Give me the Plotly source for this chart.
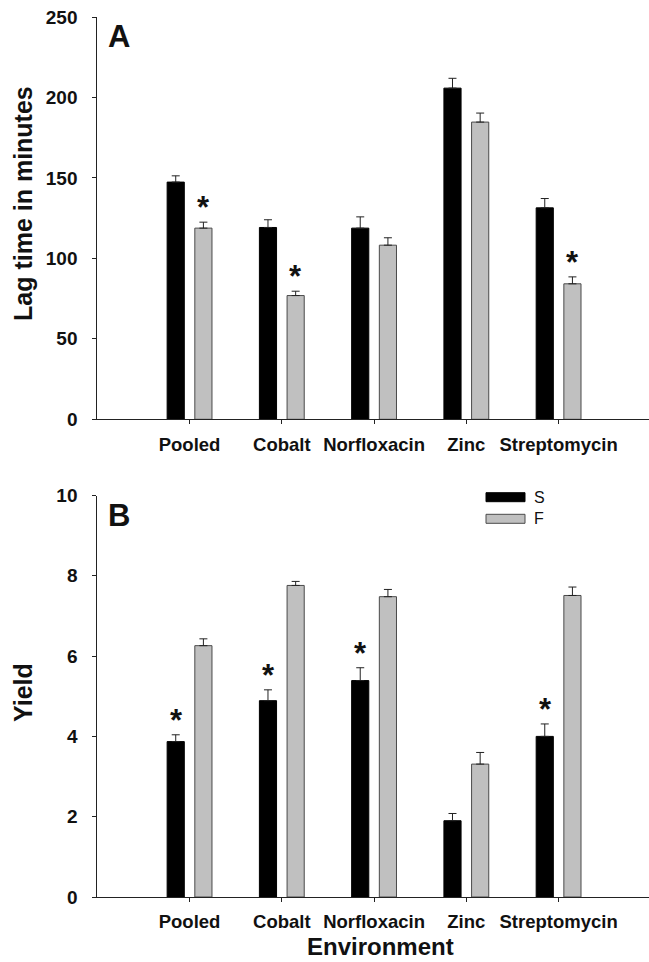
import plotly.graph_objects as go

categories = ["Pooled", "Cobalt", "Norfloxacin", "Zinc", "Streptomycin"]

lag_S = [147.4, 119.2, 118.8, 205.8, 131.4]
lag_S_se = [3.9, 4.8, 7.0, 6.1, 5.8]
lag_F = [118.8, 76.9, 108.2, 184.7, 84.2]
lag_F_se = [3.7, 2.7, 4.6, 5.6, 4.3]
lag_sig_F = [True, True, False, False, True]

yield_S = [3.87, 4.89, 5.39, 1.90, 4.00]
yield_S_se = [0.17, 0.27, 0.32, 0.18, 0.31]
yield_F = [6.26, 7.76, 7.48, 3.31, 7.51]
yield_F_se = [0.17, 0.10, 0.18, 0.29, 0.21]
yield_sig_S = [True, True, True, False, True]

series_names = ["S", "F"]
lag_ticks = [0, 50, 100, 150, 200, 250]
yield_ticks = [0, 2, 4, 6, 8, 10]

W, H = 649, 962
FONT = "Liberation Sans, Arial, sans-serif"
BLACK = "#000000"
GREY = "#c0c0c0"
GREY_EDGE = "#4a4a4a"
TXT = "#111111"

def px_x(p):
    return p / W

def px_y(p):
    return 1 - p / H

fig = go.Figure()

def add_bars(vals, se, name, color, edge, xa, ya):
    fig.add_trace(go.Bar(
        x=categories, y=vals, name=name, xaxis=xa, yaxis=ya,
        marker=dict(color=color, line=dict(color=edge, width=1)),
        error_y=dict(type="data", symmetric=False, array=se,
                     arrayminus=[0] * len(se), color="#222222",
                     thickness=1, width=4),
        showlegend=False,
    ))

add_bars(lag_S, lag_S_se, series_names[0], BLACK, BLACK, "x", "y")
add_bars(lag_F, lag_F_se, series_names[1], GREY, GREY_EDGE, "x", "y")
add_bars(yield_S, yield_S_se, series_names[0], BLACK, BLACK, "x2", "y2")
add_bars(yield_F, yield_F_se, series_names[1], GREY, GREY_EDGE, "x2", "y2")

x_dom = [px_x(97.3), 1.0]
top_dom = [px_y(419.3), px_y(17)]
bot_dom = [px_y(897), px_y(495.5)]

axis_line = "#222222"
common_x = dict(
    type="category", range=[-1.0, 4.98], showline=True, linecolor=axis_line,
    linewidth=1, ticks="outside", ticklen=4, tickcolor=axis_line,
    tickfont=dict(family=FONT, size=18.5, color=TXT, weight="bold"),
    ticklabelstandoff=4, showgrid=False, zeroline=False, automargin=False,
    fixedrange=True,
)
common_y = dict(
    showline=True, linecolor=axis_line, linewidth=1, ticks="outside",
    ticklen=4, tickcolor=axis_line,
    tickfont=dict(family=FONT, size=19, color=TXT, weight="bold"),
    ticklabelstandoff=11, showgrid=False, zeroline=False, automargin=False,
)

fig.update_layout(
    width=W, height=H,
    margin=dict(l=0, r=0, t=0, b=0),
    paper_bgcolor="white", plot_bgcolor="white",
    barmode="group", bargap=0.4, bargroupgap=0.38,
    showlegend=False,
    xaxis=dict(domain=x_dom, anchor="y", **common_x),
    yaxis=dict(domain=top_dom, anchor="x", range=[0, 250],
               tickvals=lag_ticks, **common_y),
    xaxis2=dict(domain=x_dom, anchor="y2", **common_x),
    yaxis2=dict(domain=bot_dom, anchor="x2", range=[0, 10],
                tickvals=yield_ticks, **common_y),
)

ann = []
bar_shift = 13.5
star_font = dict(family=FONT, size=31, color=TXT, weight="bold")
for i, c in enumerate(categories):
    if lag_sig_F[i]:
        ann.append(dict(x=c, y=lag_F[i] + lag_F_se[i], xref="x", yref="y",
                        text="*", showarrow=False, xshift=bar_shift,
                        yanchor="bottom", yshift=-5, font=star_font))
    if yield_sig_S[i]:
        ann.append(dict(x=c, y=yield_S[i] + yield_S_se[i], xref="x2",
                        yref="y2", text="*", showarrow=False,
                        xshift=-bar_shift, yanchor="bottom", yshift=-5,
                        font=star_font))

# panel letters
for letter, ytop in (("A", 17), ("B", 496)):
    ann.append(dict(x=px_x(106), y=px_y(ytop), xref="paper", yref="paper",
                    text=letter, showarrow=False, xanchor="left",
                    yanchor="top",
                    font=dict(family=FONT, size=31, color=TXT,
                              weight="bold")))

# axis titles
title_font = dict(family=FONT, size=25, color=TXT, weight="bold")
ann.append(dict(x=px_x(23), y=px_y(204), xref="paper", yref="paper",
                text="Lag time in minutes", textangle=-90, showarrow=False,
                xanchor="center", yanchor="middle", font=title_font))
ann.append(dict(x=px_x(23), y=px_y(693), xref="paper", yref="paper",
                text="Yield", textangle=-90, showarrow=False,
                xanchor="center", yanchor="middle", font=title_font))
ann.append(dict(x=px_x(380), y=0, xref="paper", yref="paper",
                text="Environment", showarrow=False,
                xanchor="center", yanchor="bottom",
                font=dict(family=FONT, size=24, color=TXT, weight="bold")))

# legend
shapes = []
leg = [(series_names[0], BLACK, BLACK, 492.7, 501.7),
       (series_names[1], GREY, GREY_EDGE, 514.3, 523.3)]
for name, col, edge, y0, y1 in leg:
    shapes.append(dict(type="rect", xref="paper", yref="paper",
                       x0=px_x(486), x1=px_x(525), y0=px_y(y1), y1=px_y(y0),
                       fillcolor=col, line=dict(color=edge, width=1)))
    ann.append(dict(x=px_x(532), y=px_y((y0 + y1) / 2), xref="paper",
                    yref="paper", text=name, showarrow=False,
                    xanchor="left", yanchor="middle",
                    font=dict(family=FONT, size=16, color=TXT)))

fig.update_layout(annotations=ann, shapes=shapes)
fig.write_html("out.html")
